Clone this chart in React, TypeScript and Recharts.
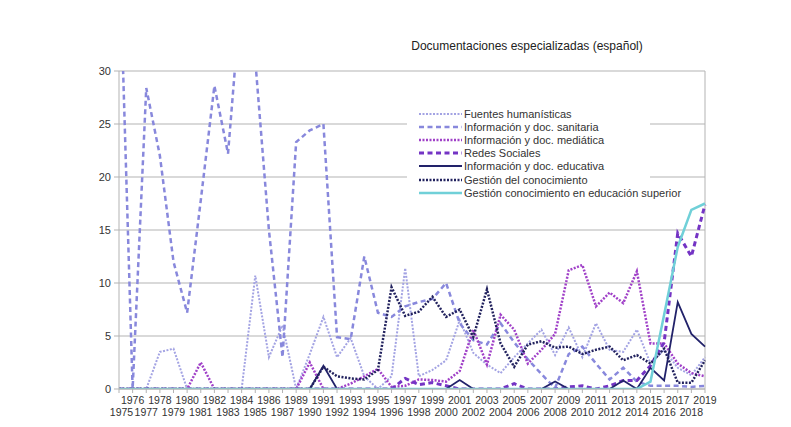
import React from 'react';
import { LineChart, Line, XAxis, YAxis, CartesianGrid, Legend, ReferenceLine } from 'recharts';

const years = [
  '1975','1976','1977','1978','1979','1980','1981','1982','1983','1984',
  '1985','1986','1987','1989','1990','1991','1992','1993','1994','1995',
  '1996','1997','1998','1999','2000','2001','2002','2003','2004','2005',
  '2006','2007','2008','2009','2010','2011','2012','2013','2014','2015',
  '2016','2017','2018','2019',
];

const fuentes = [0,0,0,3.5,3.8,0,0,0,0,0, 10.7,3.0,6.0,0,3.3,6.8,3.0,4.8,1.2,0, 1.2,11.4,1.2,1.8,2.7,6.5,3.4,2.3,1.5,3.0, 4.3,5.6,3.2,5.8,3.0,6.2,3.7,3.5,5.6,2.4, 3.7,2.0,1.3,3.0];
const sanitaria = [43,0,28.4,22,12,7.2,17.8,28.6,22.2,38, 31,15,3,23.3,24.4,25,4.9,4.7,12.5,7.2, 6.8,7.8,8.2,8.5,10,6.2,4.6,4.2,6.2,4.4, 2.8,1.4,0.1,3.3,4.0,2.4,0.9,2.0,0.7,0.3, 0.3,0.3,0.2,0.3];
const mediatica = [0,0,0,0,0,0,2.5,0,0,0, 0,0,0,0,2.5,0,0,0.5,1.2,1.9, 0.2,0.3,0.9,0.85,0.7,1.7,5.6,2.3,7.0,5.6, 2.4,3.7,5.2,11.2,11.7,7.8,9.1,8.1,11.1,4.3, 4.3,2.4,1.5,1.2];
const redes = [0,0,0,0,0,0,0,0,0,0, 0,0,0,0,0,0,0,0,0,0, 0,1.0,0.4,0.6,0.3,0,0,0,0,0.5, 0,0,0,0.2,0.3,0,0.3,0.8,0.8,2.2, 4.4,14.7,12.5,17.4];
const educativa = [0,0,0,0,0,0,0,0,0,0, 0,0,0,0,0,2.2,0,0,0,0, 0,0,0,0,0,0.85,0,0,0,0, 0,0,0.7,0,0,0,0,0.8,0,2.0, 0.8,8.2,5.2,4.0];
const gestion = [0,0,0,0,0,0,0,0,0,0, 0,0,0,0,0,2.1,1.2,1.0,0.9,1.8, 9.6,6.9,7.3,8.7,6.8,7.5,4.9,9.4,4.3,2.1, 4.2,4.5,3.9,4.0,3.3,3.7,4.0,2.7,3.2,2.4, 3.8,0.6,0.6,2.7];
const superior = [0,0,0,0,0,0,0,0,0,0, 0,0,0,0,0,0,0,0,0,0, 0,0,0,0,0,0,0,0,0,0, 0,0,0,0,0,0,0,0,0,0.7, 7.0,13.4,16.9,17.5];

const yTicks = [0, 5, 10, 15, 20, 25, 30];

const series = [
  { key: 'fuentes', name: 'Fuentes humanísticas', values: fuentes, color: '#a3a3e3', width: 2, dash: '2 1.5' },
  { key: 'sanitaria', name: 'Información y doc. sanitaria', values: sanitaria, color: '#8888dc', width: 2.5, dash: '5 3.5' },
  { key: 'mediatica', name: 'Información y doc. mediática', values: mediatica, color: '#a040c8', width: 2.5, dash: '2 1.5' },
  { key: 'redes', name: 'Redes Sociales', values: redes, color: '#7434c4', width: 3, dash: '5 3.5' },
  { key: 'educativa', name: 'Información y doc. educativa', values: educativa, color: '#22226a', width: 1.8, dash: undefined },
  { key: 'gestion', name: 'Gestión del conocimiento', values: gestion, color: '#22225e', width: 2.5, dash: '2 1.5' },
  { key: 'superior', name: 'Gestión conocimiento en educación superior', values: superior, color: '#70d0d8', width: 2.5, dash: undefined },
];

const data = years.map((year, i) => {
  const row: Record<string, any> = { year };
  series.forEach((s) => { row[s.key] = s.values[i]; });
  return row;
});

const FONT = '"Liberation Sans", Arial, sans-serif';

const XTick = (props: any) => {
  const { x, payload } = props;
  const idx = years.indexOf(payload.value);
  const top = idx % 2 === 1;
  return (
    <text x={idx === 0 ? x + 2.5 : x} y={top ? 403.5 : 416} textAnchor="middle" fontSize={10.5} fill="#333" fontFamily={FONT}>
      {payload.value}
    </text>
  );
};

const LegendBox = () => (
  <div style={{ background: '#fff', width: 243, height: 96, boxSizing: 'border-box', paddingTop: 2.5 }}>
    {series.map((s) => (
      <div key={s.key} style={{ display: 'flex', alignItems: 'center', height: 13.1 }}>
        <svg width={57} height={10} style={{ flex: 'none' }}>
          <line x1={12} y1={5} x2={55} y2={5} stroke={s.color} strokeWidth={s.width} strokeDasharray={s.dash} />
        </svg>
        <span style={{ fontFamily: FONT, fontSize: 11, color: '#333', whiteSpace: 'nowrap' }}>{s.name}</span>
      </div>
    ))}
  </div>
);

export default function App() {
  return (
    <div style={{ position: 'absolute', left: 0, top: 0, width: 791, height: 427, background: '#fff' }}>
      <div style={{ position: 'absolute', left: 0, top: 39, width: 791, paddingLeft: 263, boxSizing: 'border-box', textAlign: 'center', fontFamily: FONT, fontSize: 12, color: '#222' }}>
        Documentaciones especializadas (español)
      </div>
      <LineChart width={791} height={427} data={data} margin={{ top: 71, right: 86, bottom: 8, left: 79 }}>
        <CartesianGrid horizontal vertical={false} stroke="#b3b3b3" />
        <XAxis
          dataKey="year"
          interval={0}
          height={30}
          tick={<XTick />}
          tickSize={4}
          axisLine={{ stroke: '#b3b3b3' }}
          tickLine={{ stroke: '#b3b3b3' }}
        />
        <YAxis
          width={40}
          domain={[0, 30]}
          ticks={yTicks}
          allowDataOverflow
          tickSize={5}
          tickMargin={3}
          axisLine={{ stroke: '#b3b3b3' }}
          tickLine={{ stroke: '#b3b3b3' }}
          tick={{ fontSize: 11, fill: '#333', fontFamily: FONT }}
        />
        <ReferenceLine x="2019" stroke="#b3b3b3" />
        <Legend
          layout="vertical"
          align="center"
          verticalAlign="middle"
          content={<LegendBox />}
          wrapperStyle={{ left: 407, top: 105, width: 243, height: 96 }}
        />
        {series.map((s) => (
          <Line
            key={s.key}
            type="linear"
            dataKey={s.key}
            name={s.name}
            stroke={s.color}
            strokeWidth={s.width}
            strokeDasharray={s.dash}
            dot={false}
            activeDot={false}
            isAnimationActive={false}
          />
        ))}
      </LineChart>
    </div>
  );
}
